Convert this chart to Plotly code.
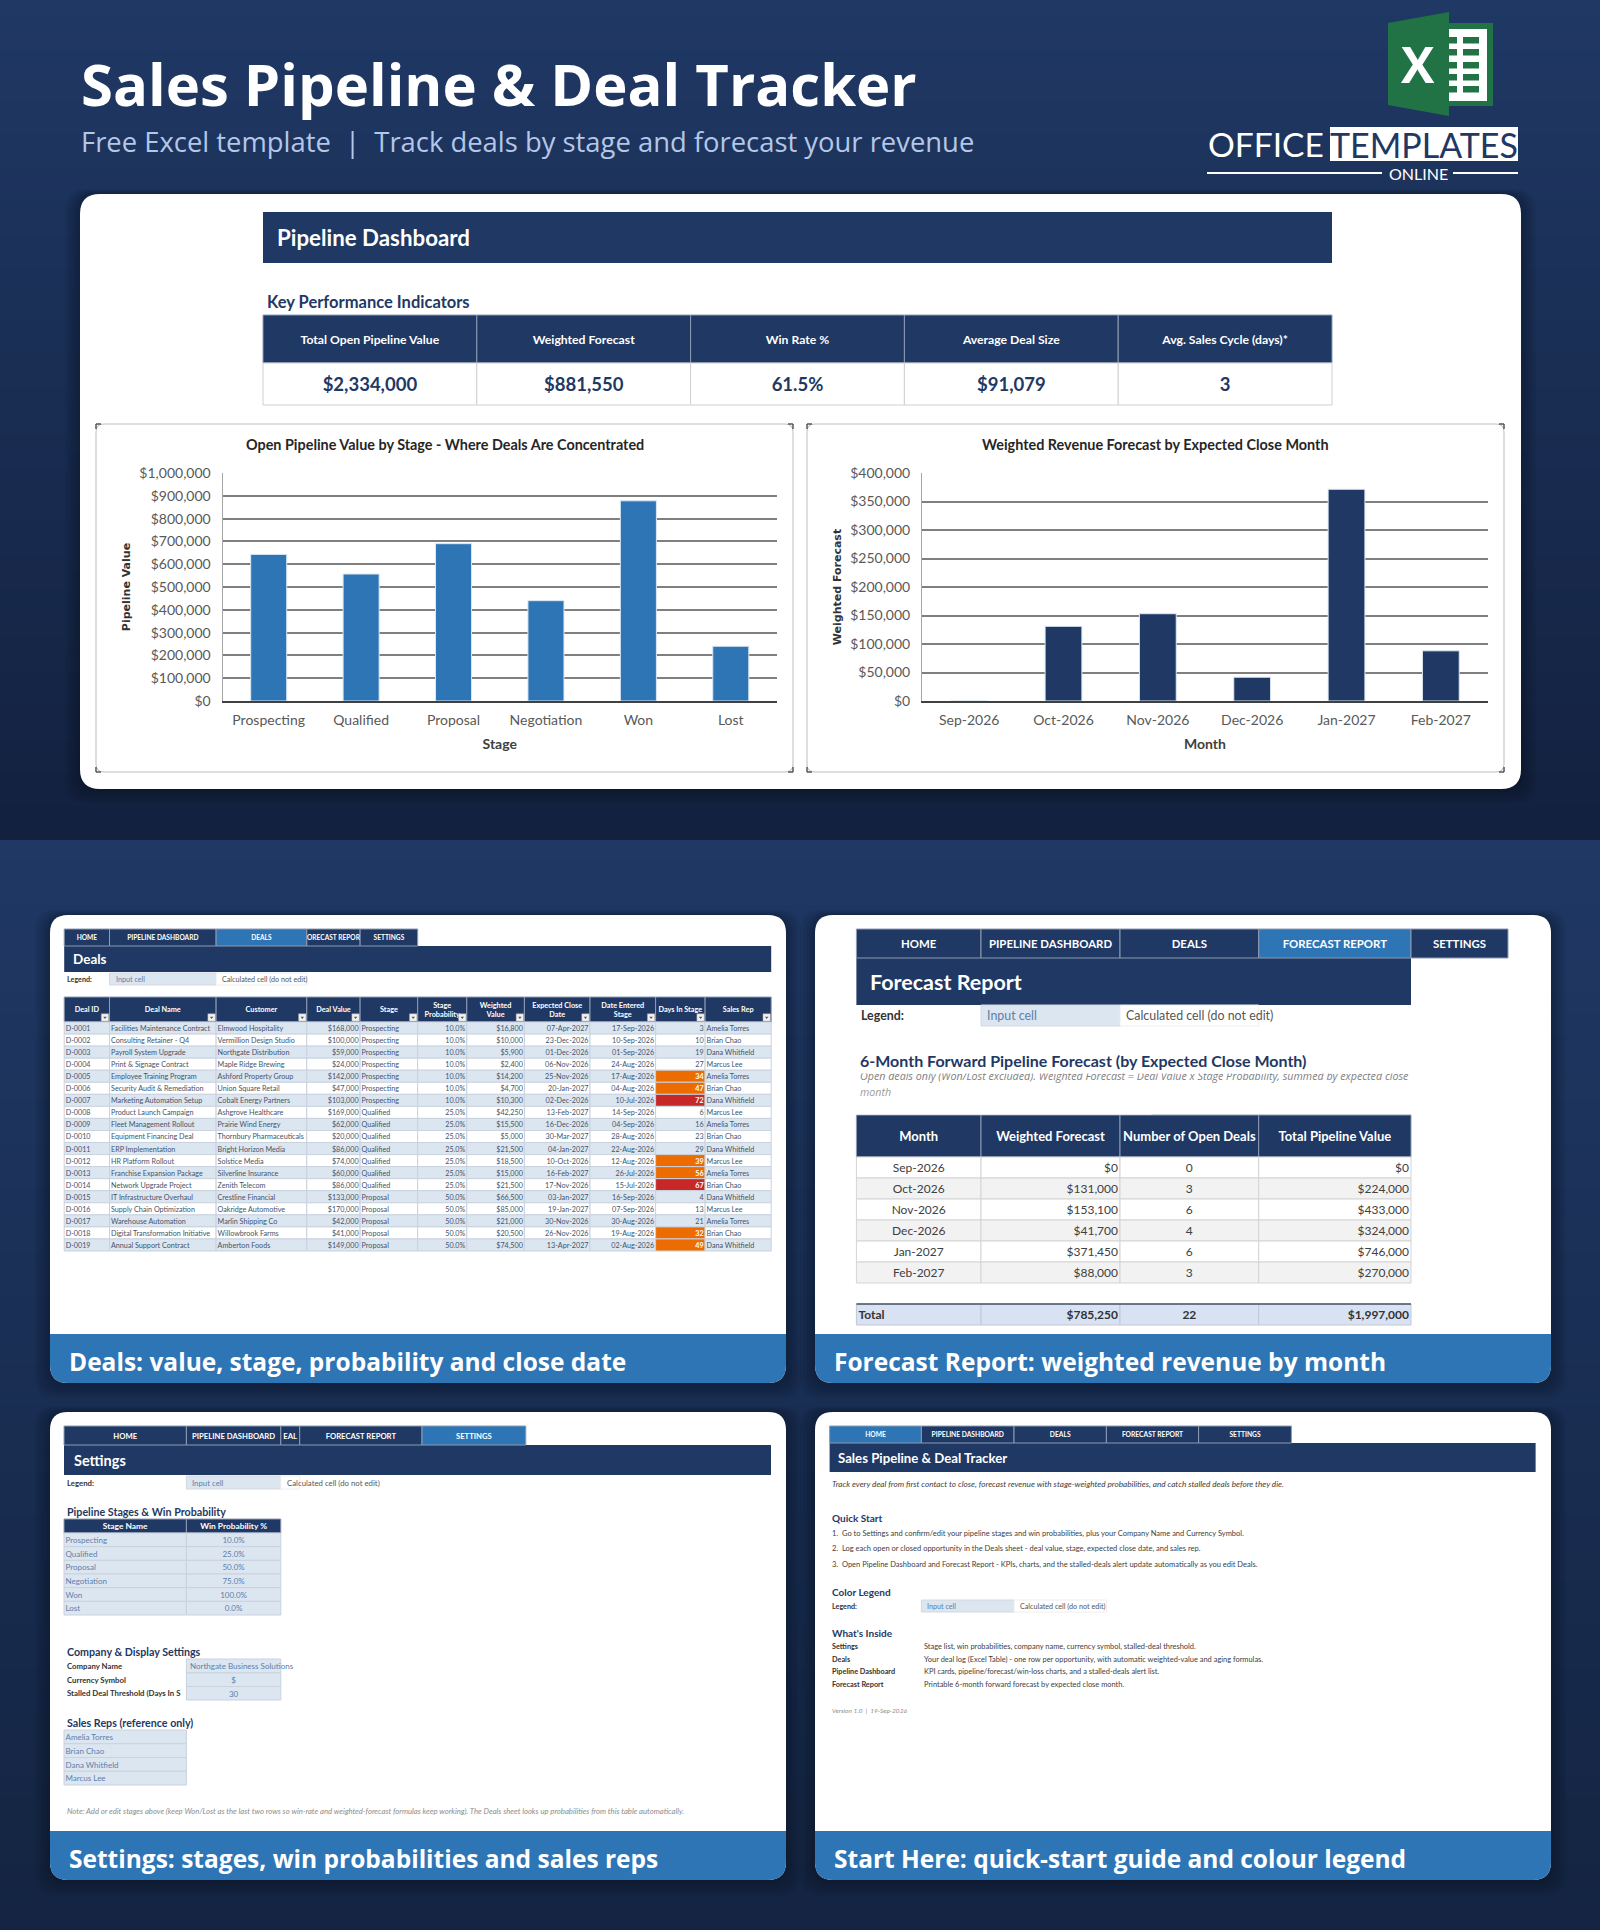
import plotly.graph_objects as go

W, H = 1600, 1930
NAVY = "#1F3864"
BLUE = "#2E75B6"
INPUT = "#DCE6F1"
TEXT = "#44546A"
HEAD = "Open Sans"
CELL = "Lato"

stages = ["Prospecting", "Qualified", "Proposal", "Negotiation", "Won", "Lost"]
stage_values = [643000, 557000, 690000, 440000, 878000, 240000]
months = ["Sep-2026", "Oct-2026", "Nov-2026", "Dec-2026", "Jan-2027", "Feb-2027"]
forecast_values = [0, 131000, 153100, 41700, 371450, 88000]
open_deals = [0, 3, 6, 4, 6, 3]
pipeline_values = [0, 224000, 433000, 324000, 746000, 270000]
forecast_totals = ["Total", "$785,250", "22", "$1,997,000"]

kpi_names = ["Total Open Pipeline Value", "Weighted Forecast", "Win Rate %", "Average Deal Size", "Avg. Sales Cycle (days)*"]
kpi_values = ["$2,334,000", "$881,550", "61.5%", "$91,079", "3"]

deal_ids = ["D-%04d" % i for i in range(1, 20)]
deal_names = [
    "Facilities Maintenance Contract", "Consulting Retainer - Q4", "Payroll System Upgrade",
    "Print & Signage Contract", "Employee Training Program", "Security Audit & Remediation",
    "Marketing Automation Setup", "Product Launch Campaign", "Fleet Management Rollout",
    "Equipment Financing Deal", "ERP Implementation", "HR Platform Rollout",
    "Franchise Expansion Package", "Network Upgrade Project", "IT Infrastructure Overhaul",
    "Supply Chain Optimization", "Warehouse Automation", "Digital Transformation Initiative",
    "Annual Support Contract",
]
customers = [
    "Elmwood Hospitality", "Vermillion Design Studio", "Northgate Distribution", "Maple Ridge Brewing",
    "Ashford Property Group", "Union Square Retail", "Cobalt Energy Partners", "Ashgrove Healthcare",
    "Prairie Wind Energy", "Thornbury Pharmaceuticals", "Bright Horizon Media", "Solstice Media",
    "Silverline Insurance", "Zenith Telecom", "Crestline Financial", "Oakridge Automotive",
    "Marlin Shipping Co", "Willowbrook Farms", "Amberton Foods",
]
deal_values = [168000, 100000, 59000, 24000, 142000, 47000, 103000, 169000, 62000, 20000,
               86000, 74000, 60000, 86000, 133000, 170000, 42000, 41000, 149000]
deal_stages = ["Prospecting"] * 7 + ["Qualified"] * 7 + ["Proposal"] * 5
deal_probs = [10.0] * 7 + [25.0] * 7 + [50.0] * 5
weighted_values = [16800, 10000, 5900, 2400, 14200, 4700, 10300, 42250, 15500, 5000,
                   21500, 18500, 15000, 21500, 66500, 85000, 21000, 20500, 74500]
close_dates = ["07-Apr-2027", "23-Dec-2026", "01-Dec-2026", "06-Nov-2026", "25-Nov-2026", "20-Jan-2027",
               "02-Dec-2026", "13-Feb-2027", "16-Dec-2026", "30-Mar-2027", "04-Jan-2027", "10-Oct-2026",
               "16-Feb-2027", "17-Nov-2026", "03-Jan-2027", "19-Jan-2027", "30-Nov-2026", "26-Nov-2026",
               "13-Apr-2027"]
entered_dates = ["17-Sep-2026", "10-Sep-2026", "01-Sep-2026", "24-Aug-2026", "17-Aug-2026", "04-Aug-2026",
                 "10-Jul-2026", "14-Sep-2026", "04-Sep-2026", "28-Aug-2026", "22-Aug-2026", "12-Aug-2026",
                 "26-Jul-2026", "15-Jul-2026", "16-Sep-2026", "07-Sep-2026", "30-Aug-2026", "19-Aug-2026",
                 "02-Aug-2026"]
days_in_stage = [3, 10, 19, 27, 34, 47, 72, 6, 16, 23, 29, 39, 56, 67, 4, 13, 21, 32, 49]
sales_reps = ["Amelia Torres", "Brian Chao", "Dana Whitfield", "Marcus Lee"]
deal_reps = [sales_reps[i % 4] for i in range(19)]
deal_headers = ["Deal ID", "Deal Name", "Customer", "Deal Value", "Stage", "Stage<br>Probability",
                "Weighted<br>Value", "Expected Close<br>Date", "Date Entered<br>Stage", "Days In Stage", "Sales Rep"]
win_probs = ["10.0%", "25.0%", "50.0%", "75.0%", "100.0%", "0.0%"]

fig = go.Figure()
shapes = []
notes = []


def fx(x):
    return x / W


def fy(y):
    return 1 - y / H


def rect(x0, y0, x1, y1, fill, line=None, width=1, layer="below", opacity=None):
    s = dict(type="rect", xref="paper", yref="paper", x0=fx(x0), x1=fx(x1), y0=fy(y0), y1=fy(y1),
             fillcolor=fill, layer=layer, line=dict(color=line or fill, width=width if line else 0))
    if opacity is not None:
        s["opacity"] = opacity
    shapes.append(s)


def rounded(x0, y0, x1, y1, r, fill, top=True, bottom=True, opacity=None, line=None):
    rt = r if top else 0
    rb = r if bottom else 0
    pts = [("M", x0 + rt, y0), ("L", x1 - rt, y0), ("Q", x1, y0, x1, y0 + rt), ("L", x1, y1 - rb),
           ("Q", x1, y1, x1 - rb, y1), ("L", x0 + rb, y1), ("Q", x0, y1, x0, y1 - rb), ("L", x0, y0 + rt),
           ("Q", x0, y0, x0 + rt, y0)]
    path = ""
    for p in pts:
        path += p[0] + " "
        for i in range(1, len(p), 2):
            path += "%.5f,%.5f " % (fx(p[i]), fy(p[i + 1]))
    s = dict(type="path", xref="paper", yref="paper", path=path + "Z", fillcolor=fill, layer="below",
             line=dict(color=line or fill, width=1 if line else 0))
    if opacity is not None:
        s["opacity"] = opacity
    shapes.append(s)


def shadow(x0, y0, x1, y1, r):
    for i in range(6):
        rounded(x0 - 3 * i, y0 - i, x1 + 3 * i, y1 + 3 * i, r + 2, "#000000", opacity=0.05)


def seg(x0, y0, x1, y1, color, width=1, layer="below"):
    shapes.append(dict(type="line", xref="paper", yref="paper", x0=fx(x0), x1=fx(x1), y0=fy(y0), y1=fy(y1),
                       layer=layer, line=dict(color=color, width=width)))


def label(x, y, text, size, color=TEXT, bold=False, italic=False, anchor="left", family=CELL, angle=0):
    if bold:
        text = "<b>" + text + "</b>"
    if italic:
        text = "<i>" + text + "</i>"
    notes.append(dict(x=fx(x), y=fy(y), xref="paper", yref="paper", text=text, showarrow=False, xanchor=anchor,
                      yanchor="middle", textangle=angle, borderpad=0, font=dict(size=size, color=color, family=family)))


def mix(a, b, t):
    ca = [int(a[i:i + 2], 16) for i in (1, 3, 5)]
    cb = [int(b[i:i + 2], 16) for i in (1, 3, 5)]
    return "#%02x%02x%02x" % tuple(round(p + (q - p) * t) for p, q in zip(ca, cb))


def gradient(y0, y1, top, bottom, steps=50):
    for i in range(steps):
        rect(0, y0 + (y1 - y0) * i / steps, W, y0 + (y1 - y0) * (i + 1) / steps + 1, mix(top, bottom, i / (steps - 1)))


def draw_table(x_edges, y_edges, columns, aligns, row_fills, size, color=TEXT, bold=False, line="#c9d2de",
               pad=2.0, cell_fills=None, cell_colors=None):
    y_mid = [(a + b) / 2 for a, b in zip(y_edges[:-1], y_edges[1:])]
    heights = [b - a for a, b in zip(y_edges[:-1], y_edges[1:])]
    # text sits a little high in the cell otherwise
    y_text = [y + 0.12 * size + 0.3 for y in y_mid]
    for c, values in enumerate(columns):
        x0, x1 = x_edges[c], x_edges[c + 1]
        n = len(values)
        fills = list(cell_fills[c]) if cell_fills and c in cell_fills else list(row_fills)
        colors = list(cell_colors[c]) if cell_colors and c in cell_colors else [color] * n
        fig.add_trace(go.Bar(y=y_mid, x=[x1 - x0] * n, base=[x0] * n, width=heights, orientation="h",
                             marker=dict(color=fills, line=dict(color=line, width=1)), hoverinfo="skip",
                             showlegend=False))
        align = aligns[c]
        tx = {"left": x0 + pad, "right": x1 - pad, "center": (x0 + x1) / 2}[align]
        pos = {"left": "middle right", "right": "middle left", "center": "middle center"}[align]
        txt = ["<b>%s</b>" % v if bold else str(v) for v in values]
        fig.add_trace(go.Scatter(x=[tx] * n, y=y_text, text=txt, mode="text", textposition=pos, hoverinfo="skip",
                                 showlegend=False, cliponaxis=False,
                                 textfont=dict(size=size, color=colors, family=CELL)))


def nav(x_edges, y0, y1, labels, active, size):
    fills = [[BLUE if i == active else NAVY] for i in range(len(labels))]
    draw_table(x_edges, [y0, y1], [[t] for t in labels], ["center"] * len(labels), [NAVY], size, color="white",
               bold=True, line="#8e9bb3", pad=0, cell_fills=dict(enumerate(fills)))


def legend_row(x_label, x_input, x_calc, x_end, y0, y1, size):
    ym = (y0 + y1) / 2
    label(x_label, ym, "Legend:", size, "#333333", bold=True)
    rect(x_input, y0, x_calc, y1, INPUT, line="#d4d8de")
    rect(x_calc, y0, x_end, y1, "white", line="#eeeeee")
    label(x_input + 5, ym, "Input cell", size, "#5d7ea8")
    label(x_calc + 5, ym, "Calculated cell (do not edit)", size, "#555555")


# page background
gradient(0, 840, "#1f3864", "#13213f")
gradient(840, H, "#1f3864", "#142442")

# header
label(80, 83, "Sales Pipeline & Deal Tracker", 58, "white", bold=True, family=HEAD)
label(80, 142, "Free Excel template  |  Track deals by stage and forecast your revenue", 27.4, "#b4c7e7", family=HEAD)

# logo
shapes.append(dict(type="path", xref="paper", yref="paper", layer="below", fillcolor="#217346", line=dict(width=0),
                   path="M %.5f,%.5f L %.5f,%.5f L %.5f,%.5f L %.5f,%.5f Z" % (
                       fx(1388), fy(23), fx(1449), fy(12), fx(1449), fy(116), fx(1388), fy(105))))
rect(1449, 23, 1493, 106, "#217346")
rect(1449, 29, 1487, 101, "white")
for y0 in (37, 49, 62, 74, 86):
    rect(1449, y0, 1457, y0 + 6.5, "#217346")
    rect(1463, y0, 1479, y0 + 6.5, "#217346")
label(1418, 64, "X", 50, "white", bold=True, anchor="center", family=HEAD)
label(1207, 144, "OFFICE", 33.5, "white", family=CELL)
rect(1330, 127, 1518, 161, "white")
label(1424, 144, "TEMPLATES", 34, NAVY, anchor="center", family=CELL)
seg(1207, 173, 1382, 173, "white", 2)
seg(1453, 173, 1518, 173, "white", 2)
label(1418, 173, "ONLINE", 16, "white", anchor="center", family=CELL)

# main card
shadow(80, 194, 1521, 789, 20)
rounded(80, 194, 1521, 789, 20, "white")
rect(263, 212, 1332, 263, NAVY)
label(276, 238, "Pipeline Dashboard", 22.3, "white", bold=True)
label(266, 302, "Key Performance Indicators", 16.5, NAVY, bold=True)
kpi_edges = [263, 476.8, 690.6, 904.4, 1118.2, 1332]
draw_table(kpi_edges, [315, 363], [[k] for k in kpi_names], ["center"] * 5, [NAVY], 12.2, color="white", bold=True,
           line="#8e9bb3")
draw_table(kpi_edges, [363, 405], [[k] for k in kpi_values], ["center"] * 5, ["white"], 18.5, color=NAVY, bold=True,
           line="#d0d0d0")

# chart frames
for x0, x1 in ((96, 793), (807, 1504)):
    rounded(x0, 424, x1, 772, 8, "white", line="#bdbdbd")
    for cx, dx in ((x0, 1), (x1, -1)):
        for cy, dy in ((424, 1), (772, -1)):
            seg(cx, cy, cx + 5 * dx, cy, "#555555", 1.5)
            seg(cx, cy, cx, cy + 5 * dy, "#555555", 1.5)
label(445, 445, "Open Pipeline Value by Stage - Where Deals Are Concentrated", 14.4, "#262626", bold=True, anchor="center")
label(1155, 445, "Weighted Revenue Forecast by Expected Close Month", 14.4, "#262626", bold=True, anchor="center")

fig.add_trace(go.Bar(x=stages, y=stage_values, xaxis="x2", yaxis="y2", showlegend=False,
                     marker=dict(color=BLUE, line=dict(color="#dbe7f3", width=1))))
fig.add_trace(go.Bar(x=months, y=forecast_values, xaxis="x3", yaxis="y3", showlegend=False,
                     marker=dict(color=NAVY, line=dict(color="#dbe7f3", width=1))))


def chart_axes(x0, x1, x_title, y_title, y_max, dtick):
    xa = dict(domain=[fx(x0), fx(x1)], type="category", showgrid=False, showline=True, linecolor="#404040", linewidth=1.5,
              ticks="", ticklabelstandoff=5, tickfont=dict(size=14, color="#595959", family=CELL),
              title=dict(text="<b>%s</b>" % x_title, standoff=13, font=dict(size=14, color="#404040", family=CELL)),
              fixedrange=True)
    ya = dict(domain=[fy(701), fy(473)], range=[0, y_max], dtick=dtick, tickformat="$,.0f", showgrid=True,
              gridcolor="#7f7f7f", gridwidth=1.5, zeroline=False, showline=True, linecolor="#a6a6a6", linewidth=1,
              ticks="", ticklabelstandoff=8, tickfont=dict(size=14, color="#595959", family=CELL),
              title=dict(text="<b>%s</b>" % y_title, standoff=6, font=dict(size=11, color="#333333", family="DejaVu Sans")),
              fixedrange=True)
    return xa, ya


xa2, ya2 = chart_axes(222.5, 777, "Stage", "Pipeline Value", 1000000, 100000)
xa3, ya3 = chart_axes(922, 1488, "Month", "Weighted Forecast", 400000, 50000)
xa2["anchor"] = "y2"
ya2["anchor"] = "x2"
xa3["anchor"] = "y3"
ya3["anchor"] = "x3"

# card backgrounds and captions
captions = ["Deals: value, stage, probability and close date", "Forecast Report: weighted revenue by month",
            "Settings: stages, win probabilities and sales reps", "Start Here: quick-start guide and colour legend"]
for (x0, x1, y0, y1, y2), cap in zip(((50, 786, 915, 1334, 1383), (815, 1551, 915, 1334, 1383),
                                      (50, 786, 1412, 1831, 1880), (815, 1551, 1412, 1831, 1880)), captions):
    shadow(x0, y0, x1, y2, 18)
    rounded(x0, y0, x1, y2, 18, "white")
    rounded(x0, y1, x1, y2, 18, BLUE, top=False)
    label(x0 + 18, (y1 + y2) / 2 + 2.5, cap, 24.5, "white", bold=True, family=HEAD)

# deals sheet
deal_edges = [64.2, 109.5, 216.1, 306.8, 360.1, 417.7, 466.8, 524.4, 590, 655.6, 705.1, 771.2]
nav(deal_edges[:6], 929, 946, ["HOME", "PIPELINE DASHBOARD", "DEALS", "ORECAST REPOR", "SETTINGS"], 2, 6.6)
rect(64.2, 946, 771.2, 972, NAVY)
label(72, 959, "Deals", 13.5, "white", bold=True)
legend_row(66, 109.5, 216.1, 306.8, 973, 985, 7.2)
draw_table(deal_edges, [997, 1022], [[h] for h in deal_headers], ["center"] * 11, [NAVY], 7.3, color="white", bold=True,
           line="#8e9bb3")
fig.add_trace(go.Scatter(x=[e - 4.5 for e in deal_edges[1:]], y=[1017.5] * 11, mode="markers", hoverinfo="skip",
                         showlegend=False, marker=dict(symbol="square", size=7.5, color="#f2f2f2", line=dict(color="#999999", width=0.5))))
fig.add_trace(go.Scatter(x=[e - 4.5 for e in deal_edges[1:]], y=[1017.5] * 11, mode="markers", hoverinfo="skip",
                         showlegend=False, marker=dict(symbol="triangle-down", size=3, color="#555555")))
row_h = (1251 - 1022) / 19
deal_rows = [1022 + row_h * i for i in range(20)]
stripes = [INPUT if i % 2 == 0 else "white" for i in range(19)]
days_fill = ["#C62828" if d >= 60 else "#ED6C02" if d >= 30 else s for d, s in zip(days_in_stage, stripes)]
days_color = ["white" if d >= 30 else TEXT for d in days_in_stage]
days_text = ["<b>%d</b>" % d if d >= 30 else d for d in days_in_stage]
draw_table(deal_edges, deal_rows,
           [deal_ids, deal_names, customers, ["$%s" % format(v, ",") for v in deal_values], deal_stages,
            ["%.1f%%" % p for p in deal_probs], ["$%s" % format(v, ",") for v in weighted_values], close_dates,
            entered_dates, days_text, deal_reps],
           ["left", "left", "left", "right", "left", "right", "right", "right", "right", "right", "left"],
           stripes, 7.2, pad=1.5, cell_fills={9: days_fill}, cell_colors={9: days_color})

# forecast sheet
fc_edges = [856.4, 981, 1120, 1258.7, 1411, 1508]
nav(fc_edges, 929, 958, ["HOME", "PIPELINE DASHBOARD", "DEALS", "FORECAST REPORT", "SETTINGS"], 3, 11.4)
rect(856.4, 958, 1411, 1005, NAVY)
label(869, 982, "Forecast Report", 21.5, "white", bold=True)
legend_row(860, 981, 1120, 1258.7, 1005, 1026, 12.4)
label(859, 1092, "month", 10.7, "#9a9a9a", italic=True, family=HEAD)
notes.append(dict(x=fx(850), y=fy(1099), xref="paper", yref="paper", text=" ", showarrow=False, xanchor="left", yanchor="top",
                  width=300, height=14, bgcolor="white", borderpad=0))
label(859, 1076, "Open deals only (Won/Lost excluded). Weighted Forecast = Deal Value x Stage Probability, summed by expected close",
      10.7, "#808080", italic=True, family=HEAD)
notes.append(dict(x=fx(850), y=fy(1074), xref="paper", yref="paper", text=" ", showarrow=False, xanchor="left", yanchor="bottom",
                  width=580, height=14, bgcolor="white", borderpad=0))
label(859, 1060, "6-Month Forward Pipeline Forecast (by Expected Close Month)", 16, NAVY, bold=True)
fc_cols = fc_edges[:5]
draw_table(fc_cols, [1115, 1157], [["Month"], ["Weighted Forecast"], ["Number of Open Deals"], ["Total Pipeline Value"]],
           ["center"] * 4, [NAVY], 13, color="white", bold=True, line="#8e9bb3")
fc_row_h = (1283 - 1157) / 6
draw_table(fc_cols, [1157 + fc_row_h * i for i in range(7)],
           [months, ["$%s" % format(v, ",") for v in forecast_values], open_deals,
            ["$%s" % format(v, ",") for v in pipeline_values]],
           ["center", "right", "center", "right"], ["white", "#F2F2F2"] * 3, 12, color="#404040", line="#d4d4d4")
draw_table(fc_cols, [1304, 1325], [[t] for t in forecast_totals], ["left", "right", "center", "right"], ["#D9E2F3"], 12,
           color="#333333", bold=True, line="#c0c8d6")
seg(856.4, 1304, 1411, 1304, "#44546A", 1.5, layer="above")

# settings sheet
set_edges = [64, 186.4, 280.8, 299.7, 422, 525.8]
nav(set_edges, 1426, 1445, ["HOME", "PIPELINE DASHBOARD", "EAL", "FORECAST REPORT", "SETTINGS"], 4, 7.7)
rect(64, 1445, 771, 1475, NAVY)
label(73, 1460, "Settings", 14.5, "white", bold=True)
legend_row(66, 186.4, 280.8, 299.7, 1476, 1489, 7.8)
label(66, 1511, "Pipeline Stages & Win Probability", 10.7, NAVY, bold=True)
draw_table(set_edges[:3], [1519, 1533], [["Stage Name"], ["Win Probability %"]], ["center"] * 2, [NAVY], 8.4, color="white",
           bold=True, line="#8e9bb3")
draw_table(set_edges[:3], [1533 + 13.67 * i for i in range(7)], [stages, win_probs], ["left", "center"], [INPUT] * 6, 8,
           color="#5d7ea8", pad=1.5)
label(66, 1651, "Company & Display Settings", 10.7, NAVY, bold=True)
label(66, 1666, "Company Name", 7.8, "#333333", bold=True)
label(66, 1680, "Currency Symbol", 7.8, "#333333", bold=True)
label(66, 1693, "Stalled Deal Threshold (Days In S", 7.8, "#333333", bold=True)
draw_table(set_edges[1:3], [1659, 1673, 1686.5, 1700], [["", "$", "30"]], ["center"], [INPUT] * 3, 8, color="#5d7ea8")
label(189, 1666, "Northgate Business Solutions", 8, "#5d7ea8")
label(66, 1722, "Sales Reps (reference only)", 10.7, NAVY, bold=True)
draw_table(set_edges[:2], [1730 + 13.75 * i for i in range(5)], [sales_reps], ["left"], [INPUT] * 4, 8, color="#5d7ea8",
           pad=1.5)
label(66, 1811, "Note: Add or edit stages above (keep Won/Lost as the last two rows so win-rate and weighted-forecast formulas "
      "keep working). The Deals sheet looks up probabilities from this table automatically.", 7.7, "#8c8c8c", italic=True)

# start here sheet
home_edges = [829.6, 921.4, 1014, 1106.4, 1198.6, 1291.4]
nav(home_edges, 1426, 1443, ["HOME", "PIPELINE DASHBOARD", "DEALS", "FORECAST REPORT", "SETTINGS"], 0, 6.7)
rect(829.6, 1443, 1535.6, 1472, NAVY)
label(837, 1458, "Sales Pipeline & Deal Tracker", 13.2, "white", bold=True)
label(831, 1484, "Track every deal from first contact to close, forecast revenue with stage-weighted probabilities, "
      "and catch stalled deals before they die.", 8.2, "#404040", italic=True)
label(831, 1518, "Quick Start", 10, NAVY, bold=True)
quick_start = [
    "1.  Go to Settings and confirm/edit your pipeline stages and win probabilities, plus your Company Name and Currency Symbol.",
    "2.  Log each open or closed opportunity in the Deals sheet - deal value, stage, expected close date, and sales rep.",
    "3.  Open Pipeline Dashboard and Forecast Report - KPIs, charts, and the stalled-deals alert update automatically as you edit Deals.",
]
for y, t in zip((1533, 1548, 1564), quick_start):
    label(831, y, t, 7.5, "#404040")
label(831, 1592, "Color Legend", 10, NAVY, bold=True)
legend_row(831, 921.4, 1014, 1106.4, 1600, 1612, 7.2)
label(831, 1633, "What's Inside", 10, NAVY, bold=True)
inside_names = ["Settings", "Deals", "Pipeline Dashboard", "Forecast Report"]
inside_text = [
    "Stage list, win probabilities, company name, currency symbol, stalled-deal threshold.",
    "Your deal log (Excel Table) - one row per opportunity, with automatic weighted-value and aging formulas.",
    "KPI cards, pipeline/forecast/win-loss charts, and a stalled-deals alert list.",
    "Printable 6-month forward forecast by expected close month.",
]
for y, a, b in zip((1646, 1659, 1671, 1684), inside_names, inside_text):
    label(831, y, a, 7.3, "#333333", bold=True)
    label(923, y, b, 7.45, "#404040")
label(831, 1710, "Version 1.0  |  19-Sep-2026", 6.5, "#8c8c8c", italic=True)

fig.update_layout(
    width=W, height=H, margin=dict(l=0, r=0, t=0, b=0), template="none", showlegend=False,
    paper_bgcolor="#1f3864", plot_bgcolor="rgba(0,0,0,0)", barmode="overlay", bargap=0.61,
    xaxis=dict(domain=[0, 1], range=[0, W], visible=False, fixedrange=True, type="linear"),
    yaxis=dict(domain=[0, 1], range=[H, 0], visible=False, fixedrange=True, type="linear"),
    xaxis2=xa2, yaxis2=ya2, xaxis3=xa3, yaxis3=ya3,
    shapes=shapes, annotations=notes,
)

fig.write_html("out.html", config=dict(displayModeBar=False),
               post_script="document.body.style.margin='0';document.body.style.overflow='hidden';")
